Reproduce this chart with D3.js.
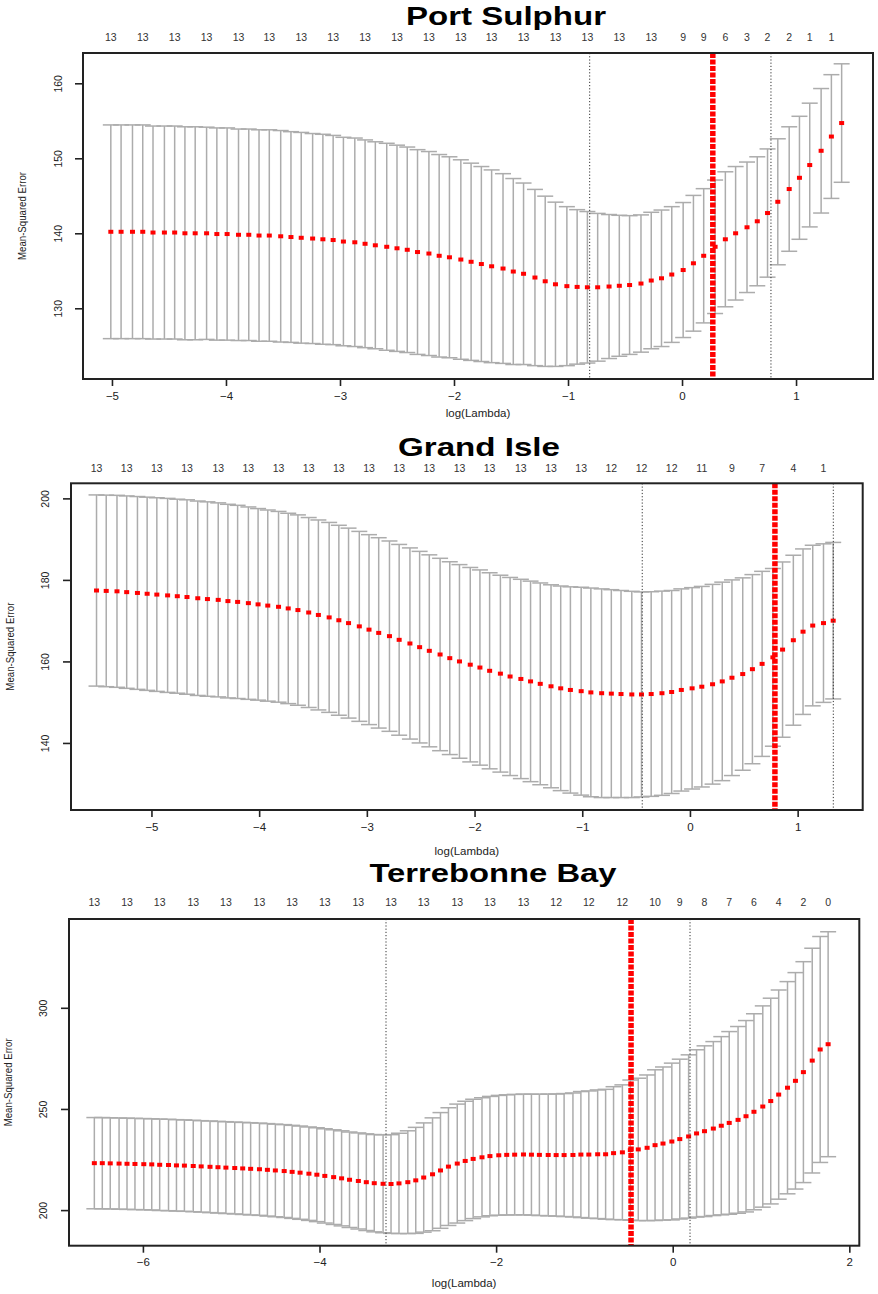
<!DOCTYPE html>
<html>
<head>
<meta charset="utf-8">
<script src="https://cdn.jsdelivr.net/npm/d3@7"></script>
<style>
  html, body { margin: 0; padding: 0; background: #ffffff; }
  svg { display: block; font-family: "Liberation Sans", Arial, sans-serif; }
</style>
</head>
<body>
<svg id="chart" width="878" height="1294"></svg>
<script>
// ---------------- DATA ----------------
// Port Sulphur
const psLogLambda = [-5.01,-4.92,-4.82,-4.73,-4.64,-4.54,-4.45,-4.36,-4.27,-4.17,-4.08,-3.99,-3.89,-3.80,-3.71,-3.62,-3.52,-3.43,-3.34,-3.24,-3.15,-3.06,-2.97,-2.87,-2.78,-2.69,-2.59,-2.50,-2.41,-2.32,-2.22,-2.13,-2.04,-1.94,-1.85,-1.76,-1.67,-1.57,-1.48,-1.39,-1.29,-1.20,-1.11,-1.01,-0.92,-0.83,-0.74,-0.64,-0.55,-0.46,-0.36,-0.27,-0.18,-0.09,0.01,0.10,0.19,0.29,0.38,0.47,0.57,0.66,0.75,0.84,0.94,1.03,1.12,1.22,1.31,1.40];
const psCvm = [140.2,140.2,140.2,140.2,140.1,140.1,140.1,140.0,140.0,140.0,139.9,139.9,139.8,139.8,139.7,139.7,139.6,139.5,139.4,139.3,139.2,139.1,138.9,138.8,138.6,138.4,138.2,138.0,137.8,137.5,137.3,137.0,136.8,136.5,136.2,135.9,135.6,135.3,134.9,134.6,134.1,133.6,133.2,132.95,132.85,132.8,132.8,132.9,133.0,133.1,133.3,133.7,134.0,134.5,135.1,136.0,137.0,138.2,139.2,140.0,140.8,141.6,142.7,144.2,145.9,147.4,149.1,151.0,152.9,154.7];
const psCvsd = [14.25,14.25,14.25,14.25,14.2,14.2,14.2,14.2,14.2,14.15,14.15,14.15,14.1,14.1,14.1,14.1,14.1,14.05,14.05,14.0,14.0,13.95,13.9,13.9,13.85,13.8,13.8,13.75,13.7,13.65,13.6,13.5,13.4,13.3,13.15,13.0,12.85,12.65,12.4,12.1,11.75,11.35,10.95,10.6,10.3,10.1,9.85,9.6,9.4,9.25,9.15,9.1,9.1,9.05,9.0,9.05,8.95,8.9,9.0,8.9,8.7,8.6,8.55,8.4,8.3,8.2,8.25,8.3,8.25,7.9];
const psTopIdx = [0,3,6,9,12,15,18,21,24,27,30,33,36,39,42,45,48,51,54,56,58,60,62,64,66,68];
const psTopNz  = [13,13,13,13,13,13,13,13,13,13,13,13,13,13,13,13,13,13,9,9,6,3,2,2,1,1];
const psLambdaMin = -0.81, psLambda1se = 0.78, psLambdaRed = 0.27;
const psXTicks = [-5,-4,-3,-2,-1,0,1];
const psYTicks = [130,140,150,160];

// Grand Isle
const giLogLambda = [-5.51,-5.42,-5.32,-5.23,-5.13,-5.04,-4.95,-4.85,-4.76,-4.67,-4.57,-4.48,-4.38,-4.29,-4.20,-4.10,-4.01,-3.92,-3.82,-3.73,-3.64,-3.54,-3.45,-3.35,-3.26,-3.17,-3.07,-2.98,-2.89,-2.79,-2.70,-2.60,-2.51,-2.42,-2.32,-2.23,-2.14,-2.04,-1.95,-1.86,-1.76,-1.67,-1.57,-1.48,-1.39,-1.29,-1.20,-1.11,-1.01,-0.92,-0.82,-0.73,-0.64,-0.54,-0.45,-0.36,-0.26,-0.17,-0.08,0.02,0.11,0.21,0.30,0.39,0.49,0.58,0.67,0.77,0.86,0.96,1.05,1.14,1.24,1.33];
const giCvm = [177.4,177.3,177.2,177.0,176.8,176.6,176.4,176.2,176.0,175.8,175.5,175.3,175.1,174.8,174.6,174.3,174.0,173.7,173.4,173.0,172.6,172.0,171.4,170.8,170.1,169.4,168.6,167.8,167.0,166.2,165.3,164.4,163.5,162.6,161.7,160.8,160.0,159.2,158.5,157.7,157.0,156.3,155.7,155.1,154.5,153.9,153.4,153.0,152.7,152.4,152.2,152.1,152.0,151.9,151.9,152.0,152.2,152.5,153.0,153.4,153.8,154.4,155.1,156.0,156.9,158.1,159.4,161.0,162.9,165.2,167.3,168.8,169.4,170.0];
const giCvsd = [23.45,23.5,23.55,23.6,23.65,23.7,23.75,23.8,23.8,23.85,23.85,23.85,23.8,23.75,23.7,23.6,23.5,23.45,23.4,23.35,23.35,23.3,23.3,23.3,23.3,23.3,23.3,23.3,23.35,23.35,23.4,23.45,23.5,23.55,23.6,23.65,23.75,23.85,23.95,24.05,24.15,24.3,24.45,24.6,24.75,24.9,25.1,25.3,25.5,25.6,25.6,25.5,25.4,25.3,25.15,25.1,25.05,24.9,24.8,24.7,24.6,24.5,24.35,24.0,23.6,23.2,22.7,21.8,21.5,20.85,20.3,19.7,19.45,19.2];
const giTopIdx = [0,3,6,9,12,15,18,21,24,27,30,33,36,39,42,45,48,51,54,57,60,63,66,69,72];
const giTopNz  = [13,13,13,13,13,13,13,13,13,13,13,13,13,13,13,13,13,12,12,12,11,9,7,4,1];
const giLambdaMin = -0.443, giLambda1se = 1.331, giLambdaRed = 0.789;
const giXTicks = [-5,-4,-3,-2,-1,0,1];
const giYTicks = [140,160,180,200];

// Terrebonne Bay
const tbLogLambda = [-6.55,-6.46,-6.37,-6.27,-6.18,-6.09,-5.99,-5.90,-5.81,-5.71,-5.62,-5.53,-5.43,-5.34,-5.24,-5.15,-5.06,-4.96,-4.87,-4.78,-4.68,-4.59,-4.50,-4.40,-4.31,-4.22,-4.12,-4.03,-3.94,-3.84,-3.75,-3.66,-3.56,-3.47,-3.38,-3.28,-3.19,-3.10,-3.00,-2.91,-2.82,-2.72,-2.63,-2.54,-2.44,-2.35,-2.26,-2.16,-2.07,-1.97,-1.88,-1.79,-1.69,-1.60,-1.51,-1.41,-1.32,-1.23,-1.13,-1.04,-0.95,-0.85,-0.76,-0.67,-0.57,-0.48,-0.39,-0.29,-0.20,-0.11,-0.01,0.08,0.18,0.27,0.36,0.46,0.55,0.64,0.74,0.83,0.92,1.02,1.11,1.20,1.30,1.39,1.48,1.58,1.67,1.76];
const tbCvm = [223.2,223.2,223.1,223.0,222.9,222.8,222.7,222.6,222.4,222.3,222.1,222.0,221.8,221.6,221.4,221.2,221.0,220.8,220.6,220.4,220.2,219.9,219.6,219.3,218.9,218.5,218.0,217.5,216.9,216.3,215.7,215.0,214.4,213.8,213.3,213.0,212.9,213.2,213.8,214.7,216.1,217.7,219.6,221.5,223.0,224.3,225.3,226.1,226.7,227.1,227.3,227.4,227.5,227.4,227.3,227.25,227.2,227.2,227.25,227.45,227.45,227.6,227.6,228.15,228.55,229.65,230.0,230.8,232.1,232.9,233.9,235.1,236.4,237.9,239.0,240.3,241.7,243.1,244.6,246.4,248.6,251.2,253.9,257.1,260.5,263.9,268.2,273.9,279.4,282.0];
const tbCvsd = [22.55,22.55,22.55,22.55,22.55,22.55,22.55,22.55,22.6,22.6,22.6,22.6,22.6,22.6,22.65,22.65,22.7,22.7,22.75,22.8,22.8,22.85,22.9,22.95,23.0,23.05,23.1,23.2,23.3,23.4,23.5,23.6,23.75,23.9,24.05,24.2,24.4,24.8,25.4,26.2,27.0,27.9,28.6,29.1,29.4,29.5,29.5,29.45,29.5,29.6,29.7,29.8,29.85,29.9,30.0,30.1,30.2,30.4,30.65,31.15,31.45,31.8,32.1,32.85,33.35,34.65,35.2,36.0,37.25,37.85,38.75,39.5,40.35,41.35,42.2,43.0,44.05,45.15,46.15,47.3,48.45,49.75,50.85,51.7,52.45,53.5,54.6,55.55,55.85,55.6];
const tbTopIdx = [0,4,8,12,16,20,24,28,32,36,40,44,48,52,56,60,64,68,71,74,77,80,83,86,89];
const tbTopNz  = [13,13,13,13,13,13,13,13,13,13,13,13,13,13,12,12,12,10,9,8,7,6,4,2,0];
const tbLambdaMin = -3.247, tbLambda1se = 0.196, tbLambdaRed = -0.472;
const tbXTicks = [-6,-4,-2,0,2];
const tbYTicks = [200,250,300];

// ---------------- LAYOUT ----------------
const panels = [
  { title: "Port Sulphur", logLambda: psLogLambda, cvm: psCvm, cvsd: psCvsd, topIdx: psTopIdx, topNz: psTopNz,
    lmin: psLambdaMin, l1se: psLambda1se, lred: psLambdaRed, xTicks: psXTicks, yTicks: psYTicks,
    box: {l: 83, t: 53, r: 873, b: 379}, xDom: [-5.254, 1.675], yDom: [120.57, 164.04],
    titleX: 506, titleY: 25, titleW: 200, nzY: 40.5, yTickX: 58, yTitleX: 22, xTickY: 400, xTitleY: 417 },
  { title: "Grand Isle", logLambda: giLogLambda, cvm: giCvm, cvsd: giCvsd, topIdx: giTopIdx, topNz: giTopNz,
    lmin: giLambdaMin, l1se: giLambda1se, lred: giLambdaRed, xTicks: giXTicks, yTicks: giYTicks,
    box: {l: 71, t: 483.3, r: 862.7, b: 810}, xDom: [-5.747, 1.604], yDom: [123.55, 203.7],
    titleX: 479, titleY: 456, titleW: 162, nzY: 471.5, yTickX: 45, yTitleX: 10, xTickY: 830.6, xTitleY: 855 },
  { title: "Terrebonne Bay", logLambda: tbLogLambda, cvm: tbCvm, cvsd: tbCvsd, topIdx: tbTopIdx, topNz: tbTopNz,
    lmin: tbLambdaMin, l1se: tbLambda1se, lred: tbLambdaRed, xTicks: tbXTicks, yTicks: tbYTicks,
    box: {l: 69, t: 919, r: 859.3, b: 1245.7}, xDom: [-6.837, 2.113], yDom: [182.4, 343.9],
    titleX: 493, titleY: 882, titleW: 247, nzY: 906, yTickX: 43, yTitleX: 8, xTickY: 1265.6, xTitleY: 1287 }
];

const svg = d3.select("#chart");
const barColor = "#acacac";
const capHalf = 8;

panels.forEach(p => {
  const g = svg.append("g");
  const x = d3.scaleLinear().domain(p.xDom).range([p.box.l, p.box.r]);
  const y = d3.scaleLinear().domain(p.yDom).range([p.box.b, p.box.t]);
  const pts = p.logLambda.map((l, i) => ({ l, m: p.cvm[i], up: p.cvm[i] + p.cvsd[i], lo: p.cvm[i] - p.cvsd[i] }));

  // error bars
  const eb = g.append("g").attr("stroke", barColor).attr("stroke-width", 1.5).attr("fill", "none");
  eb.selectAll("line.v").data(pts).join("line").attr("class", "v")
    .attr("x1", d => x(d.l)).attr("x2", d => x(d.l))
    .attr("y1", d => y(d.up)).attr("y2", d => y(d.lo));
  eb.selectAll("line.cu").data(pts).join("line").attr("class", "cu")
    .attr("x1", d => x(d.l) - capHalf).attr("x2", d => x(d.l) + capHalf)
    .attr("y1", d => y(d.up)).attr("y2", d => y(d.up));
  eb.selectAll("line.cl").data(pts).join("line").attr("class", "cl")
    .attr("x1", d => x(d.l) - capHalf).attr("x2", d => x(d.l) + capHalf)
    .attr("y1", d => y(d.lo)).attr("y2", d => y(d.lo));

  // mean points
  g.append("g").selectAll("rect").data(pts).join("rect")
    .attr("x", d => x(d.l) - 2.5).attr("y", d => y(d.m) - 2)
    .attr("width", 5).attr("height", 4).attr("fill", "#ff0000");

  // vertical reference lines
  [p.lmin, p.l1se].forEach(v => {
    g.append("line").attr("x1", x(v)).attr("x2", x(v)).attr("y1", p.box.t).attr("y2", p.box.b)
      .attr("stroke", "#333").attr("stroke-width", 1).attr("stroke-dasharray", "1.2,2");
  });
  g.append("line").attr("x1", x(p.lred)).attr("x2", x(p.lred)).attr("y1", p.box.t).attr("y2", p.box.b)
    .attr("stroke", "#ff0000").attr("stroke-width", 5.5).attr("stroke-dasharray", "5,1.5");

  // box
  g.append("rect").attr("x", p.box.l).attr("y", p.box.t)
    .attr("width", p.box.r - p.box.l).attr("height", p.box.b - p.box.t)
    .attr("fill", "none").attr("stroke", "#222").attr("stroke-width", 2);

  // x axis
  const xa = g.append("g").attr("transform", `translate(0,${p.box.b})`)
    .call(d3.axisBottom(x).tickValues(p.xTicks).tickSize(7).tickFormat(d => d < 0 ? "\u2212" + Math.abs(d) : d));
  xa.select(".domain").remove();
  xa.selectAll(".tick line").attr("stroke", "#222").attr("stroke-width", 1.6);
  xa.selectAll(".tick text").attr("y", p.xTickY - p.box.b).attr("dy", null)
    .attr("font-size", 11.5).attr("fill", "#222").attr("font-family", "Liberation Sans, Arial, sans-serif");

  // y axis
  const ya = g.append("g").attr("transform", `translate(${p.box.l},0)`)
    .call(d3.axisLeft(y).tickValues(p.yTicks).tickSize(8));
  ya.select(".domain").remove();
  ya.selectAll(".tick line").attr("stroke", "#222").attr("stroke-width", 1.6);
  ya.selectAll(".tick text").attr("x", null).attr("dy", null).attr("text-anchor", "middle")
    .attr("transform", `translate(${p.yTickX - p.box.l},0) rotate(-90)`)
    .attr("dominant-baseline", "central")
    .attr("font-size", 10.5).attr("fill", "#222").attr("font-family", "Liberation Sans, Arial, sans-serif");

  // axis titles
  g.append("text").attr("x", (p.box.l + p.box.r) / 2).attr("y", p.xTitleY)
    .attr("text-anchor", "middle").attr("font-size", 11.5).attr("fill", "#222").text("log(Lambda)");
  g.append("text").attr("transform", `translate(${p.yTitleX},${(p.box.t + p.box.b) / 2}) rotate(-90)`)
    .attr("text-anchor", "middle").attr("dominant-baseline", "central")
    .attr("font-size", 10.5).attr("fill", "#222")
    .attr("textLength", 88).attr("lengthAdjust", "spacingAndGlyphs").text("Mean-Squared Error");

  // top labels (number of non-zero coefficients)
  g.append("g").selectAll("text").data(p.topIdx).join("text")
    .attr("x", (d) => x(p.logLambda[d])).attr("y", p.nzY)
    .attr("text-anchor", "middle").attr("font-size", 10.5).attr("fill", "#333")
    .text((d, i) => p.topNz[i]);

  // title
  g.append("text").attr("x", p.titleX).attr("y", p.titleY)
    .attr("text-anchor", "middle").attr("font-size", 26).attr("font-weight", "bold").attr("fill", "#000")
    .attr("textLength", p.titleW).attr("lengthAdjust", "spacingAndGlyphs").text(p.title);
});
</script>
</body>
</html>
